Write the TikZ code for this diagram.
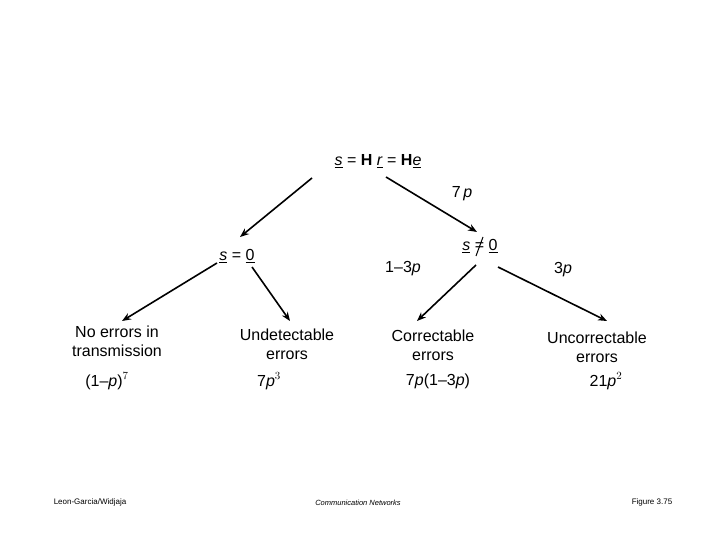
\documentclass[tikz,border=0pt]{standalone}
\usepackage{fontspec}
\setmainfont{Liberation Sans}
\usetikzlibrary{arrows.meta}
\begin{document}
\begin{tikzpicture}[x=1pt,y=-1pt,
  txt/.style={font=\fontsize{16}{19}\selectfont,inner sep=0pt,align=center},
  foot/.style={font=\fontsize{8}{10}\selectfont,inner sep=0pt},
  arr/.style={line width=1.6pt,-{Stealth[length=9pt,width=7pt]}}]
\useasboundingbox (0,0) rectangle (720,540);
\newcommand{\ul}[1]{\underline{\textit{#1}}}
\node[txt] (top) at (378,161) {\ul{s} = \textbf{H} \ul{r} = \textbf{H}\ul{e}};
\coordinate (tl) at (312,178); \coordinate (tr) at (386,177);
\node[txt] (s0) at (237,256) {\ul{s} = \underline{0}};
\node[txt] (sn) at (480,246) {\ul{s} = \underline{0}};
\draw[line width=1pt] (483,237) -- (476,256);
\node[txt] (p7) at (462,194) {7\,\textit{p}};
\node[txt] (q13) at (403,269) {1--3\textit{p}};
\node[txt] (p3) at (563,270) {3\textit{p}};
\draw[arr] (tl) -- (240,237);
\draw[arr] (tr) -- (477,232);
\node[txt] (a) at (117,341) {No errors in\\transmission};
\node[txt] (av) at (107,381) {(1--\textit{p})$^7$};
\node[txt] (b) at (287,344) {Undetectable\\errors};
\node[txt] (bv) at (269,381) {7\textit{p}$^3$};
\node[txt] (c) at (433,345) {Correctable\\errors};
\node[txt] (cv) at (438,381) {7\textit{p}(1--3\textit{p})};
\node[txt] (d) at (597,347) {Uncorrectable\\errors};
\node[txt] (dv) at (606,381) {21\textit{p}$^2$};
\draw[arr] (217,263) -- (122,321);
\draw[arr] (252,267) -- (290,321);
\draw[arr] (476,265) -- (417,321);
\draw[arr] (498,267) -- (607,321);
\node[foot] (f1) at (90,502) {Leon-Garcia/Widjaja};
\node[foot,font=\fontsize{7.5}{9}\selectfont\itshape] (f2) at (358,503) {Communication Networks};
\node[foot] (f3) at (652,502) {Figure 3.75};
\end{tikzpicture}
\end{document}
